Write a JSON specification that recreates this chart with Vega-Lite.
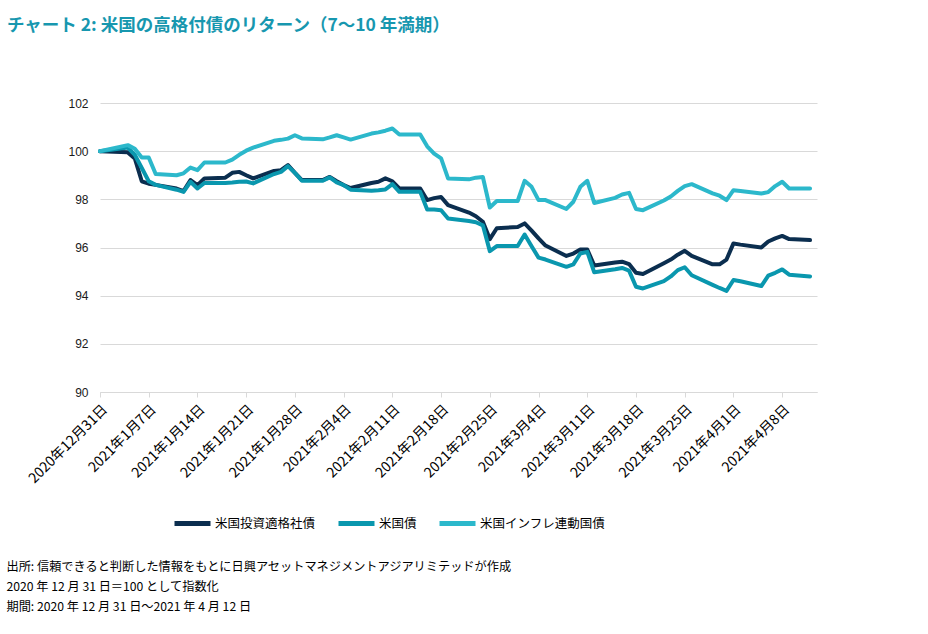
{
  "$schema": "https://vega.github.io/schema/vega-lite/v6.json",
  "width": 717,
  "height": 289,
  "autosize": {"type": "none"},
  "padding": {"left": 100, "top": 103, "right": 111, "bottom": 242},
  "background": "white",
  "title": {
    "text": "チャート 2: 米国の高格付債のリターン（7～10 年満期）",
    "anchor": "start",
    "frame": "group",
    "dx": -93,
    "dy": -59,
    "font": "Noto Sans CJK JP",
    "fontSize": 17.5,
    "fontWeight": "bold",
    "color": "#1797af"
  },
  "config": {"view": {"stroke": null}, "font": "Noto Sans CJK JP"},
  "data": {
    "values": [
      {"d": "2020-12-31", "corp": 100, "ust": 100, "tips": 100},
      {"d": "2021-01-04", "corp": 99.95, "ust": 100.15, "tips": 100.25},
      {"d": "2021-01-05", "corp": 99.7, "ust": 99.85, "tips": 100.1},
      {"d": "2021-01-06", "corp": 98.75, "ust": 99.3, "tips": 99.74},
      {"d": "2021-01-07", "corp": 98.65, "ust": 98.75, "tips": 99.74},
      {"d": "2021-01-08", "corp": 98.6, "ust": 98.6, "tips": 99.05},
      {"d": "2021-01-11", "corp": 98.45, "ust": 98.4, "tips": 99.0},
      {"d": "2021-01-12", "corp": 98.34, "ust": 98.31, "tips": 99.08},
      {"d": "2021-01-13", "corp": 98.8, "ust": 98.73, "tips": 99.32},
      {"d": "2021-01-14", "corp": 98.59, "ust": 98.45, "tips": 99.21},
      {"d": "2021-01-15", "corp": 98.87, "ust": 98.68, "tips": 99.53},
      {"d": "2021-01-18", "corp": 98.9, "ust": 98.68, "tips": 99.53},
      {"d": "2021-01-19", "corp": 99.1, "ust": 98.7, "tips": 99.65},
      {"d": "2021-01-20", "corp": 99.14, "ust": 98.73, "tips": 99.85},
      {"d": "2021-01-21", "corp": 99.0, "ust": 98.74, "tips": 100.02},
      {"d": "2021-01-22", "corp": 98.87, "ust": 98.66, "tips": 100.15},
      {"d": "2021-01-25", "corp": 99.18, "ust": 99.05, "tips": 100.43},
      {"d": "2021-01-26", "corp": 99.21, "ust": 99.14, "tips": 100.47},
      {"d": "2021-01-27", "corp": 99.42, "ust": 99.38, "tips": 100.52},
      {"d": "2021-01-28", "corp": 99.1, "ust": 99.1, "tips": 100.66},
      {"d": "2021-01-29", "corp": 98.8, "ust": 98.77, "tips": 100.53},
      {"d": "2021-02-01", "corp": 98.8, "ust": 98.77, "tips": 100.49},
      {"d": "2021-02-02", "corp": 98.93, "ust": 98.91, "tips": 100.57},
      {"d": "2021-02-03", "corp": 98.75, "ust": 98.7, "tips": 100.66},
      {"d": "2021-02-04", "corp": 98.59, "ust": 98.59, "tips": 100.57},
      {"d": "2021-02-05", "corp": 98.47, "ust": 98.4, "tips": 100.48},
      {"d": "2021-02-08", "corp": 98.68, "ust": 98.36, "tips": 100.73},
      {"d": "2021-02-09", "corp": 98.73, "ust": 98.38, "tips": 100.78},
      {"d": "2021-02-10", "corp": 98.87, "ust": 98.41, "tips": 100.85},
      {"d": "2021-02-11", "corp": 98.75, "ust": 98.63, "tips": 100.94},
      {"d": "2021-02-12", "corp": 98.45, "ust": 98.31, "tips": 100.69},
      {"d": "2021-02-15", "corp": 98.45, "ust": 98.31, "tips": 100.69},
      {"d": "2021-02-16", "corp": 97.97, "ust": 97.58, "tips": 100.2},
      {"d": "2021-02-17", "corp": 98.05, "ust": 97.58, "tips": 99.9},
      {"d": "2021-02-18", "corp": 98.1, "ust": 97.55, "tips": 99.7},
      {"d": "2021-02-19", "corp": 97.76, "ust": 97.2, "tips": 98.87},
      {"d": "2021-02-22", "corp": 97.45, "ust": 97.1, "tips": 98.83},
      {"d": "2021-02-23", "corp": 97.3, "ust": 97.05, "tips": 98.9},
      {"d": "2021-02-24", "corp": 97.07, "ust": 96.92, "tips": 98.93},
      {"d": "2021-02-25", "corp": 96.35, "ust": 95.85, "tips": 97.66},
      {"d": "2021-02-26", "corp": 96.8, "ust": 96.06, "tips": 97.93},
      {"d": "2021-03-01", "corp": 96.85, "ust": 96.06, "tips": 97.93},
      {"d": "2021-03-02", "corp": 97.0, "ust": 96.54, "tips": 98.77},
      {"d": "2021-03-03", "corp": 96.7, "ust": 96.05, "tips": 98.52},
      {"d": "2021-03-04", "corp": 96.38, "ust": 95.58, "tips": 97.97},
      {"d": "2021-03-05", "corp": 96.08, "ust": 95.5, "tips": 97.97},
      {"d": "2021-03-08", "corp": 95.65, "ust": 95.2, "tips": 97.6},
      {"d": "2021-03-09", "corp": 95.75, "ust": 95.3, "tips": 97.9},
      {"d": "2021-03-10", "corp": 95.92, "ust": 95.75, "tips": 98.52},
      {"d": "2021-03-11", "corp": 95.92, "ust": 95.82, "tips": 98.77},
      {"d": "2021-03-12", "corp": 95.25, "ust": 94.97, "tips": 97.85},
      {"d": "2021-03-15", "corp": 95.38, "ust": 95.1, "tips": 98.06},
      {"d": "2021-03-16", "corp": 95.41, "ust": 95.15, "tips": 98.2},
      {"d": "2021-03-17", "corp": 95.31, "ust": 95.04, "tips": 98.27},
      {"d": "2021-03-18", "corp": 94.95, "ust": 94.37, "tips": 97.6},
      {"d": "2021-03-19", "corp": 94.9, "ust": 94.3, "tips": 97.55},
      {"d": "2021-03-22", "corp": 95.35, "ust": 94.6, "tips": 97.95},
      {"d": "2021-03-23", "corp": 95.5, "ust": 94.8, "tips": 98.12},
      {"d": "2021-03-24", "corp": 95.7, "ust": 95.06, "tips": 98.35},
      {"d": "2021-03-25", "corp": 95.86, "ust": 95.18, "tips": 98.55},
      {"d": "2021-03-26", "corp": 95.65, "ust": 94.85, "tips": 98.63},
      {"d": "2021-03-29", "corp": 95.3, "ust": 94.45, "tips": 98.25},
      {"d": "2021-03-30", "corp": 95.3, "ust": 94.32, "tips": 98.15},
      {"d": "2021-03-31", "corp": 95.5, "ust": 94.2, "tips": 97.97},
      {"d": "2021-04-01", "corp": 96.17, "ust": 94.65, "tips": 98.38},
      {"d": "2021-04-02", "corp": 96.12, "ust": 94.6, "tips": 98.35},
      {"d": "2021-04-05", "corp": 96.0, "ust": 94.4, "tips": 98.24},
      {"d": "2021-04-06", "corp": 96.25, "ust": 94.83, "tips": 98.3},
      {"d": "2021-04-07", "corp": 96.38, "ust": 94.95, "tips": 98.55},
      {"d": "2021-04-08", "corp": 96.48, "ust": 95.09, "tips": 98.73},
      {"d": "2021-04-09", "corp": 96.35, "ust": 94.87, "tips": 98.45},
      {"d": "2021-04-12", "corp": 96.31, "ust": 94.8, "tips": 98.45}
    ]
  },
  "transform": [{"fold": ["corp", "ust", "tips"], "as": ["series", "value"]}],
  "mark": {"type": "line", "strokeWidth": 4, "strokeJoin": "round", "strokeCap": "round"},
  "encoding": {
    "x": {
      "field": "d",
      "type": "temporal",
      "scale": {
        "type": "utc",
        "domain": [
          {"year": 2020, "month": 12, "date": 31, "utc": true},
          {"year": 2021, "month": 4, "date": 13, "utc": true}
        ]
      },
      "axis": {
        "values": [
          {"year": 2020, "month": 12, "date": 31, "utc": true},
          {"year": 2021, "month": 1, "date": 7, "utc": true},
          {"year": 2021, "month": 1, "date": 14, "utc": true},
          {"year": 2021, "month": 1, "date": 21, "utc": true},
          {"year": 2021, "month": 1, "date": 28, "utc": true},
          {"year": 2021, "month": 2, "date": 4, "utc": true},
          {"year": 2021, "month": 2, "date": 11, "utc": true},
          {"year": 2021, "month": 2, "date": 18, "utc": true},
          {"year": 2021, "month": 2, "date": 25, "utc": true},
          {"year": 2021, "month": 3, "date": 4, "utc": true},
          {"year": 2021, "month": 3, "date": 11, "utc": true},
          {"year": 2021, "month": 3, "date": 18, "utc": true},
          {"year": 2021, "month": 3, "date": 25, "utc": true},
          {"year": 2021, "month": 4, "date": 1, "utc": true},
          {"year": 2021, "month": 4, "date": 8, "utc": true}
        ],
        "format": "%Y年%-m月%-d日",
        "labelAngle": -45,
        "labelFont": "Noto Sans CJK JP",
        "labelFontSize": 14,
        "labelColor": "#000000",
        "labelOverlap": false,
        "labelPadding": 5,
        "domainColor": "#d9d9d9",
        "tickColor": "#d9d9d9",
        "tickSize": 5,
        "grid": false,
        "title": [
          "出所: 信頼できると判断した情報をもとに日興アセットマネジメントアジアリミテッドが作成",
          "2020 年 12 月 31 日＝100 として指数化",
          "期間: 2020 年 12 月 31 日～2021 年 4 月 12 日"
        ],
        "titleX": -94,
        "titleY": 168,
        "titleAlign": "left",
        "titleAnchor": "start",
        "titleBaseline": "top",
        "titleFont": "Noto Sans CJK JP",
        "titleFontWeight": "normal",
        "titleFontSize": 12.2,
        "titleLineHeight": 20,
        "titleColor": "#000000"
      }
    },
    "y": {
      "field": "value",
      "type": "quantitative",
      "scale": {"domain": [90, 102], "nice": false, "zero": false},
      "axis": {
        "values": [90, 92, 94, 96, 98, 100, 102],
        "domain": false,
        "ticks": false,
        "gridColor": "#d9d9d9",
        "labelFont": "Liberation Sans",
        "labelFontSize": 12,
        "labelColor": "#1a1a1a",
        "labelPadding": 12,
        "title": null
      }
    },
    "color": {
      "field": "series",
      "type": "nominal",
      "scale": {"domain": ["corp", "ust", "tips"], "range": ["#0b2e4f", "#0a97ae", "#2cb8cb"]},
      "legend": {
        "orient": "none",
        "legendX": 72,
        "legendY": 400,
        "direction": "horizontal",
        "gridAlign": "none",
        "title": null,
        "symbolType": "stroke",
        "symbolStrokeWidth": 5,
        "symbolSize": 1296,
        "labelFont": "Noto Sans CJK JP",
        "labelFontSize": 12.5,
        "labelColor": "#000000",
        "labelOffset": 2,
        "columnPadding": 12,
        "labelExpr": "datum.label == 'corp' ? '米国投資適格社債' : datum.label == 'ust' ? '米国債' : '米国インフレ連動国債'"
      }
    }
  }
}
